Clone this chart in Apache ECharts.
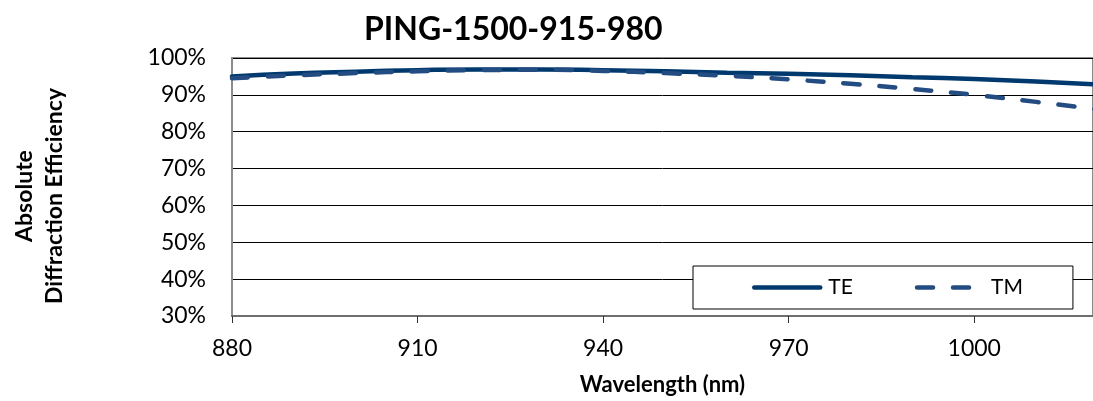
<!DOCTYPE html>
<html>
<head>
<meta charset="utf-8">
<script src="https://cdn.jsdelivr.net/npm/echarts@6/dist/echarts.min.js"></script>
<style>
html,body{margin:0;padding:0;background:#fff;}
#c{width:1093px;height:401px;}
</style>
</head>
<body>
<div id="c"></div>
<script>
// Data (wavelength nm, efficiency %)
const wavelengths = [880, 890, 900, 910, 920, 930, 940, 950, 960, 970, 980, 990, 1000, 1010, 1020];
const teValues    = [95.0, 95.8, 96.3, 96.7, 96.9, 96.9, 96.7, 96.4, 96.0, 95.7, 95.3, 94.8, 94.3, 93.6, 92.8];
const tmValues    = [94.5, 95.3, 95.9, 96.4, 96.7, 96.8, 96.5, 95.9, 95.2, 94.2, 93.0, 91.6, 90.0, 88.1, 86.0];
const yTicks = [30, 40, 50, 60, 70, 80, 90, 100];
const titleText = 'PING-1500-915-980';

const pair = (xs, ys) => xs.map((x, i) => [x, ys[i]]);
const FONT = 'Lato';

const chart = echarts.init(document.getElementById('c'));
chart.setOption({
  animation: false,
  backgroundColor: '#fff',
  title: {
    text: titleText,
    left: 359, top: 9,
    textStyle: { fontFamily: FONT, fontWeight: 'bold', fontSize: 32, color: '#000' }
  },
  grid: {
    left: 232, right: -2, top: 58, bottom: 82,
    show: true, borderColor: '#8c8c8c', borderWidth: 2, backgroundColor: 'transparent'
  },
  legend: {
    left: 693, top: 266,
    padding: [11, 50, 11, 59],
    backgroundColor: '#fff',
    borderColor: '#000', borderWidth: 1, borderRadius: 0,
    itemWidth: 66, itemHeight: 14, itemGap: 62,
    itemStyle: { opacity: 0 },
    lineStyle: { width: 4.5, cap: 'round' },
    textStyle: { fontFamily: FONT, fontSize: 21, color: '#000', padding: [0, 0, 0, 3] },
    data: ['TE', 'TM']
  },
  xAxis: {
    type: 'value', min: 880, max: 1019.2, interval: 30,
    name: 'Wavelength (nm)', nameLocation: 'middle', nameGap: 58,
    nameTextStyle: { fontFamily: FONT, fontWeight: 'bold', fontSize: 22, color: '#000' },
    axisLine: { lineStyle: { color: '#6e6e6e', width: 2 } },
    axisTick: { show: true, length: 7, lineStyle: { color: '#333', width: 1 } },
    axisLabel: { fontFamily: FONT, fontSize: 23, color: '#000', margin: 21, showMaxLabel: false,
                 formatter: v => String(v) },
    splitLine: { show: false }
  },
  yAxis: {
    type: 'value', min: 30, max: 100, interval: 10,
    axisLine: { show: true, lineStyle: { color: '#8c8c8c', width: 2 } },
    axisTick: { show: false },
    axisLabel: { fontFamily: FONT, fontSize: 23, color: '#000', margin: 26, formatter: '{value}%' },
    splitLine: { show: true, lineStyle: { color: '#000', width: 1 } }
  },
  graphic: [
    {
      type: 'text', x: 25, y: 196, rotation: Math.PI / 2,
      style: { text: 'Absolute', fontFamily: FONT, fontWeight: 'bold', fontSize: 23, fill: '#000', align: 'center', verticalAlign: 'middle' }
    },
    {
      type: 'text', x: 55, y: 196, rotation: Math.PI / 2,
      style: { text: 'Diffraction Efficiency', fontFamily: FONT, fontWeight: 'bold', fontSize: 23, fill: '#000', align: 'center', verticalAlign: 'middle' }
    }
  ],
  series: [
    {
      name: 'TE', type: 'line', smooth: true, symbol: 'none', z: 3,
      data: pair(wavelengths, teValues),
      lineStyle: { color: '#00396e', width: 4.5, cap: 'round' },
      itemStyle: { color: '#00396e' }
    },
    {
      name: 'TM', type: 'line', smooth: true, symbol: 'none', z: 4,
      data: pair(wavelengths, tmValues),
      lineStyle: { color: '#234c82', width: 4.5, type: [16, 20], cap: 'round' },
      itemStyle: { color: '#234c82' }
    }
  ]
});
</script>
</body>
</html>
